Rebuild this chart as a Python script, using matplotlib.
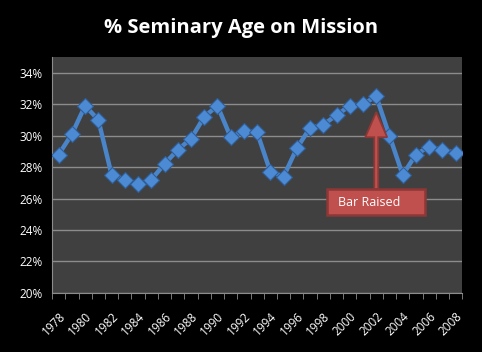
import matplotlib.pyplot as plt
from matplotlib.patches import FancyArrow, Rectangle

years = list(range(1978, 2009))
pct = [28.8, 30.1, 31.9, 31.0, 27.5, 27.2, 26.9, 27.2, 28.2, 29.1,
       29.8, 31.2, 31.9, 29.9, 30.3, 30.2, 27.7, 27.4, 29.2, 30.5,
       30.7, 31.3, 31.9, 32.0, 32.5, 30.0, 27.5, 28.8, 29.3, 29.1, 28.9]
y_ticks = [20, 22, 24, 26, 28, 30, 32, 34]
note_year = 2002
note_text = "Bar Raised"

plt.rcParams['font.family'] = ['Open Sans', 'DejaVu Sans']

fig = plt.figure(figsize=(4.82, 3.52), dpi=100, facecolor='black')
ax = fig.add_axes([0.108, 0.168, 0.851, 0.670])
ax.set_facecolor('#404040')

x = list(range(len(years)))
ax.plot(x, pct, color='#4a84c9', lw=3.2, marker='D', ms=8,
        markerfacecolor='#4c8ad4', markeredgecolor='#2f5f99', markeredgewidth=0.8,
        zorder=3)

ax.set_xlim(-0.5, len(years) - 0.5)
ax.set_ylim(20, 35)
ax.set_yticks(y_ticks)
ax.set_yticklabels([f"{v}%" for v in y_ticks], color='white', fontsize=8.5)
ax.tick_params(axis='y', length=0, pad=7)
ax.grid(axis='y', color='#8c8c8c', lw=1)
ax.set_axisbelow(True)

# category boundary ticks, labels every other year
ax.set_xticks([i - 0.5 for i in range(len(years) + 1)], minor=True)
ax.tick_params(axis='x', which='minor', length=4, color='#8c8c8c', direction='out')
lab_idx = [i for i, yr in enumerate(years) if yr % 2 == 0]
ax.set_xticks(lab_idx)
ax.set_xticklabels([str(years[i]) for i in lab_idx], rotation=45, ha='right',
                   rotation_mode='anchor', color='white', fontsize=8.5)
ax.tick_params(axis='x', which='major', length=0, pad=12)

for s in ['top', 'right']:
    ax.spines[s].set_visible(False)
for s in ['left', 'bottom']:
    ax.spines[s].set_color('#8c8c8c')

# annotation arrow + box
xi = years.index(note_year)
ax.add_patch(FancyArrow(xi, 26.6, 0, 4.9, width=0.3, head_width=1.65,
                        head_length=1.6, length_includes_head=True,
                        fc='#c0504d', ec='#8c3836', lw=1.3, zorder=4))
ax.add_patch(Rectangle((xi - 3.7, 24.95), 7.4, 1.65, fc='#c0504d',
                       ec='#8c3836', lw=1.8, zorder=5))
ax.text(xi - 2.9, 25.75, note_text, color='white', fontsize=9,
        va='center', ha='left', zorder=6)

fig.suptitle("% Seminary Age on Mission", color='white', fontsize=14.5,
             fontweight='bold', y=0.95)

fig.savefig('out.png', dpi=100, facecolor='black')
